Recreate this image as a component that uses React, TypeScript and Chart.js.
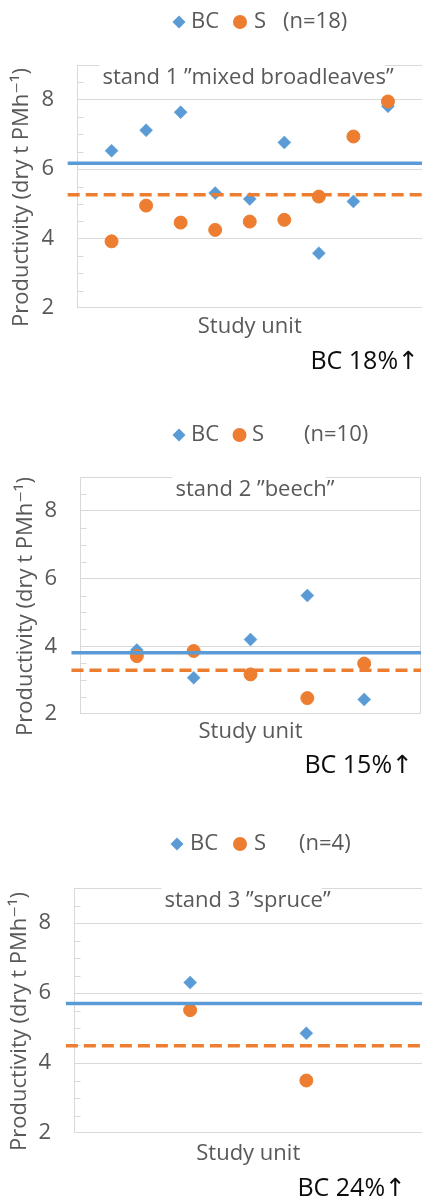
import React, { useEffect, useRef } from 'react';
import { Chart, registerables } from 'chart.js';

Chart.register(...registerables);

// ---------- data ----------
const SERIES_NAMES = ['BC', 'S'];

const STAND1_UNITS = [1, 2, 3, 4, 5, 6, 7, 8, 9];
const STAND1_BC = [6.53, 7.12, 7.64, 5.31, 5.14, 6.77, 3.58, 5.07, 7.81];
const STAND1_S = [3.92, 4.95, 4.46, 4.25, 4.49, 4.54, 5.21, 6.94, 7.95];
const STAND1_MEAN_BC = 6.17;
const STAND1_MEAN_S = 5.26;

const STAND2_UNITS = [1, 2, 3, 4, 5];
const STAND2_BC = [3.89, 3.07, 4.2, 5.5, 2.43];
const STAND2_S = [3.71, 3.86, 3.17, 2.47, 3.49];
const STAND2_MEAN_BC = 3.81;
const STAND2_MEAN_S = 3.29;

const STAND3_UNITS = [1, 2];
const STAND3_BC = [6.3, 4.85];
const STAND3_S = [5.51, 3.5];
const STAND3_MEAN_BC = 5.7;
const STAND3_MEAN_S = 4.49;

const STAND_TITLES = ['stand 1 ”mixed broadleaves”', 'stand 2 ”beech”', 'stand 3 ”spruce”'];
const N_LABELS = ['(n=18)', '(n=10)', '(n=4)'];
const GAIN_LABELS = ['BC 18%↑', 'BC 15%↑', 'BC 24%↑'];
const Y_TICK_LABELS = [2, 4, 6, 8];
const Y_MIN = 2;
const Y_MAX = 9;
const Y_STEP = 0.5;
const X_TITLE = 'Study unit';
const Y_TITLE = 'Productivity (dry t PMh⁻¹)';

const PANELS = [
  { units: STAND1_UNITS, bc: STAND1_BC, s: STAND1_S, meanBC: STAND1_MEAN_BC, meanS: STAND1_MEAN_S },
  { units: STAND2_UNITS, bc: STAND2_BC, s: STAND2_S, meanBC: STAND2_MEAN_BC, meanS: STAND2_MEAN_S },
  { units: STAND3_UNITS, bc: STAND3_BC, s: STAND3_S, meanBC: STAND3_MEAN_BC, meanS: STAND3_MEAN_S },
];

// ---------- layout / style ----------
const CANVAS_W = 430;
const CANVAS_H = 400;
const FONT = '"Open Sans", "DejaVu Sans", sans-serif';
const GRAY = '#595959';
const GRID = '#d9d9d9';
const BLUE = '#5B9BD5';
const ORANGE = '#ED7D31';

const LAYOUTS = [
  {
    top: 65, bottom: 308, left: 77, right: 426, lineStart: -0.27,
    legendY: 22, legend: [179, 191, 240, 254, 283],
    yTitleX: 22, xTitleY: 326.5, titleCx: 248,
    gainRight: 419, gainBase: 369,
  },
  {
    top: 77, bottom: 314, left: 80, right: 421, lineStart: -0.15,
    legendY: 35, legend: [179, 191, 239.5, 252, 304],
    yTitleX: 26, xTitleY: 332, titleCx: 255,
    gainRight: 413, gainBase: 373,
  },
  {
    top: 88, bottom: 333, left: 74, right: 429, lineStart: -0.07,
    legendY: 44, legend: [177, 190, 240, 254, 299],
    yTitleX: 20, xTitleY: 354, titleCx: 247.5,
    gainRight: 406, gainBase: 396,
  },
];

function drawDiamond(ctx: CanvasRenderingContext2D, x: number, y: number, r: number) {
  ctx.beginPath();
  ctx.moveTo(x - r, y);
  ctx.lineTo(x, y - r);
  ctx.lineTo(x + r, y);
  ctx.lineTo(x, y + r);
  ctx.closePath();
  ctx.fill();
}

function makePlugin(idx: number) {
  const L = LAYOUTS[idx];
  return {
    id: 'panelDecor' + idx,
    beforeDatasetsDraw(chart: any) {
      const { ctx, chartArea: a, scales } = chart;
      ctx.save();
      // plot-area border
      ctx.strokeStyle = GRID;
      ctx.lineWidth = 1;
      const l = Math.round(a.left) + 0.5;
      const t = Math.round(a.top) + 0.5;
      const r = Math.round(a.right) - 0.5;
      const b = Math.round(a.bottom) - 0.5;
      ctx.strokeRect(l, t, r - l, b - t);
      // minor inside ticks
      const ys = scales.y;
      ctx.beginPath();
      ys.ticks.forEach((tk: any) => {
        const v = tk.value;
        if (v <= Y_MIN || v >= Y_MAX || Y_TICK_LABELS.includes(v)) return;
        const py = Math.round(ys.getPixelForValue(v)) + 0.5;
        ctx.moveTo(l, py);
        ctx.lineTo(l + 6, py);
      });
      ctx.stroke();
      // stand title with white box over top border
      ctx.font = `22px ${FONT}`;
      const title = STAND_TITLES[idx];
      const w = ctx.measureText(title).width;
      ctx.fillStyle = '#ffffff';
      ctx.fillRect(L.titleCx - w / 2 - 3, a.top - 3, w - 6, 7);
      ctx.fillStyle = GRAY;
      ctx.textAlign = 'center';
      ctx.textBaseline = 'alphabetic';
      ctx.fillText(title, L.titleCx, a.top + 18.5);
      ctx.restore();
    },
    afterDraw(chart: any) {
      const { ctx } = chart;
      const [dX, bcX, cX, sX, nX] = L.legend;
      const y = L.legendY;
      ctx.save();
      ctx.fillStyle = BLUE;
      drawDiamond(ctx, dX, y, 6.5);
      ctx.fillStyle = ORANGE;
      ctx.beginPath();
      ctx.arc(cX, y, 7, 0, Math.PI * 2);
      ctx.fill();
      ctx.fillStyle = GRAY;
      ctx.font = `22px ${FONT}`;
      ctx.textAlign = 'left';
      ctx.textBaseline = 'middle';
      ctx.fillText(SERIES_NAMES[0], bcX, y);
      ctx.fillText(SERIES_NAMES[1], sX, y);
      ctx.fillText(N_LABELS[idx], nX, y);
      // gain label
      ctx.fillStyle = '#0d0d0d';
      ctx.font = `25px ${FONT}`;
      ctx.textAlign = 'right';
      ctx.textBaseline = 'alphabetic';
      ctx.fillText(GAIN_LABELS[idx], L.gainRight, L.gainBase);
      ctx.restore();
    },
  };
}

function buildConfig(idx: number): any {
  const P = PANELS[idx];
  const L = LAYOUTS[idx];
  const xMax = P.units.length + 1;
  const halfLine = (22 * 1.2) / 2;
  return {
    type: 'scatter',
    data: {
      datasets: [
        {
          label: 'BC mean',
          data: [{ x: L.lineStart, y: P.meanBC }, { x: xMax, y: P.meanBC }],
          showLine: true,
          borderColor: BLUE,
          borderWidth: 3.5,
          pointRadius: 0,
          clip: false,
          order: 0,
        },
        {
          label: 'S mean',
          data: [{ x: L.lineStart, y: P.meanS }, { x: xMax, y: P.meanS }],
          showLine: true,
          borderColor: ORANGE,
          borderWidth: 3.5,
          borderDash: [12, 6],
          pointRadius: 0,
          clip: false,
          order: 1,
        },
        {
          label: SERIES_NAMES[1],
          data: P.units.map((u, i) => ({ x: u, y: P.s[i] })),
          pointStyle: 'circle',
          pointRadius: 6.5,
          pointBorderWidth: 1,
          backgroundColor: ORANGE,
          borderColor: ORANGE,
          order: 2,
        },
        {
          label: SERIES_NAMES[0],
          data: P.units.map((u, i) => ({ x: u, y: P.bc[i] })),
          pointStyle: 'rectRot',
          pointRadius: 6.5,
          pointBorderWidth: 0.5,
          backgroundColor: BLUE,
          borderColor: BLUE,
          order: 3,
        },
      ],
    },
    options: {
      responsive: false,
      animation: false,
      events: [],
      layout: { padding: { top: L.top, right: CANVAS_W - L.right, left: 0, bottom: 0 } },
      plugins: { legend: { display: false }, tooltip: { enabled: false }, title: { display: false } },
      scales: {
        x: {
          type: 'linear',
          min: 0,
          max: xMax,
          grid: { display: false },
          border: { display: false },
          ticks: { display: false },
          title: {
            display: true,
            text: X_TITLE,
            color: GRAY,
            font: { family: FONT, size: 22 },
            padding: { top: 0, bottom: CANVAS_H - L.xTitleY - halfLine },
          },
          afterFit: (s: any) => {
            s.height = CANVAS_H - L.bottom;
          },
        },
        y: {
          type: 'linear',
          min: Y_MIN,
          max: Y_MAX,
          ticks: {
            stepSize: Y_STEP,
            autoSkip: false,
            padding: 23,
            color: GRAY,
            font: { family: FONT, size: 22 },
            callback: (v: number) => (Y_TICK_LABELS.includes(v) ? String(v) : ''),
          },
          grid: {
            drawTicks: false,
            lineWidth: 1,
            color: (c: any) =>
              c.tick && Y_TICK_LABELS.includes(c.tick.value) && c.tick.value !== Y_MIN ? GRID : 'rgba(0,0,0,0)',
          },
          border: { display: false },
          title: {
            display: true,
            text: Y_TITLE + '\u2002\u2002',
            color: GRAY,
            font: { family: FONT, size: 22 },
            padding: { top: L.yTitleX - halfLine, bottom: 0 },
          },
          afterFit: (s: any) => {
            s.width = L.left;
          },
        },
      },
    },
    plugins: [makePlugin(idx)],
  };
}

function Panel({ idx }: { idx: number }) {
  const ref = useRef<HTMLCanvasElement>(null);
  useEffect(() => {
    if (!ref.current) return;
    const chart = new Chart(ref.current, buildConfig(idx));
    return () => chart.destroy();
  }, [idx]);
  return (
    <canvas
      ref={ref}
      width={CANVAS_W}
      height={CANVAS_H}
      style={{ display: 'block', width: CANVAS_W, height: CANVAS_H }}
    />
  );
}

export default function App() {
  return (
    <div
      style={{
        position: 'fixed',
        left: 0,
        top: 0,
        width: 422,
        height: 1200,
        overflow: 'hidden',
        background: '#ffffff',
      }}
    >
      {PANELS.map((_, i) => (
        <Panel key={i} idx={i} />
      ))}
    </div>
  );
}
